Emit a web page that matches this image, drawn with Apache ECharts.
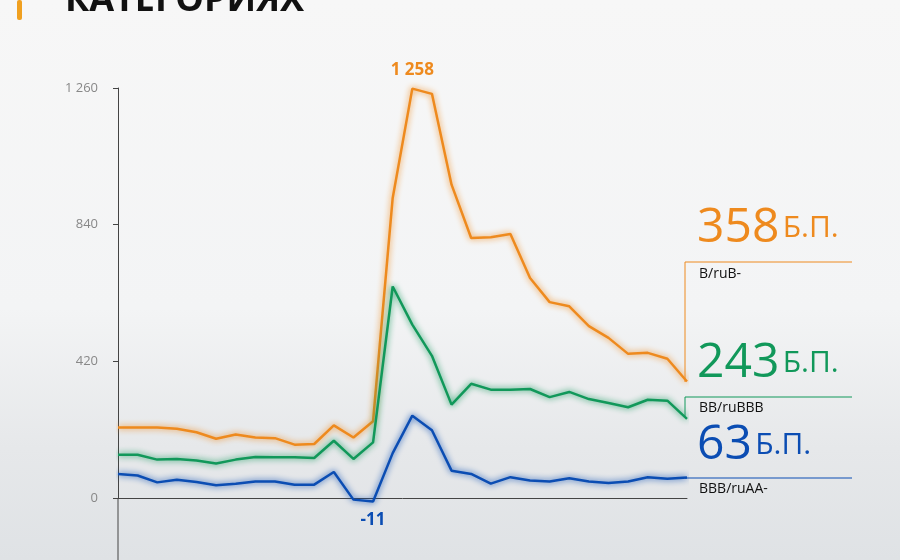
<!DOCTYPE html>
<html><head><meta charset="utf-8">
<script src="https://cdn.jsdelivr.net/npm/echarts@6/dist/echarts.min.js"></script>
<style>html,body{margin:0;padding:0;}#c{width:900px;height:560px;background:linear-gradient(180deg,#f7f7f7 0%,#f3f4f5 55%,#e6e8ea 80%,#dfe2e5 100%);}</style>
</head><body><div id="c"></div>
<script>
const categories = Array.from({length:30},(_,i)=>String(i+1));
const seriesB = [217,217,217,213,202,182,195,186,184,164,166,223,186,236,922,1258,1242,963,799,801,811,676,602,589,528,492,443,446,428,358];
const seriesBB = [133,133,118,120,115,106,118,126,125,125,123,176,120,171,650,533,437,287,351,333,333,335,310,326,304,292,279,302,299,243];
const seriesBBB = [74,69,48,56,49,39,44,51,51,41,41,80,-5,-11,138,253,208,84,74,44,64,54,51,61,51,46,51,64,59,63];
const yTicks = [0,420,840,1260];
const cO='#ee8a1e', cG='#11985a', cBl='#0b4db3';
const fmt = v=>String(v).replace(/(\d)(?=(\d{3})+$)/g,'$1 ');
function mk(arr, color, idx, pos){
  return arr.map((v,i)=> i===idx ? {value:v,label:{show:true,position:pos,distance:10,color:color,fontWeight:'bold',fontSize:17,fontFamily:'Open Sans',formatter:p=>fmt(p.value)}} : v);
}
const chart = echarts.init(document.getElementById('c'));
const lineStyle = c=>({color:c,width:2.5,shadowColor:c,shadowBlur:6});
const base = c=>({type:'line',symbol:'circle',symbolSize:0.1,showSymbol:true,clip:false,lineStyle:lineStyle(c),itemStyle:{color:c},label:{show:false}});
chart.setOption({
  animation:false,
  grid:{left:118,right:213,top:88,bottom:62},
  xAxis:{type:'category',data:categories,boundaryGap:false,axisLine:{lineStyle:{color:'#444'}},axisTick:{show:false},axisLabel:{show:false}},
  yAxis:{type:'value',min:0,max:1260,interval:420,axisLine:{show:true,lineStyle:{color:'#444'}},axisTick:{show:true,length:5,lineStyle:{color:'#444'}},splitLine:{show:false},
    axisLabel:{color:'#888',fontSize:13,fontFamily:'Open Sans',margin:20,formatter:v=>yTicks.includes(v)?fmt(v):''}},
  series:[
    Object.assign(base(cO),{data:mk(seriesB,cO,15,'top')}),
    Object.assign(base(cG),{data:seriesBB}),
    Object.assign(base(cBl),{data:mk(seriesBBB,cBl,13,'bottom')})
  ],
  graphic:[
    {type:'rect',shape:{x:17,y:0,width:5,height:20,r:2},style:{fill:'#f0a020'}},
    {type:'text',left:65,top:-17,style:{text:'КАТЕГОРИЯХ',font:'bold 36px "Open Sans"',fill:'#111',letterSpacing:6}},
    {type:'line',shape:{x1:118,y1:498,x2:118,y2:560},style:{stroke:'#444',lineWidth:1}},
    {type:'polyline',shape:{points:[[685,382],[685,262],[852,262]]},style:{stroke:cO,lineWidth:1,fill:null}},
    {type:'polyline',shape:{points:[[685,416],[685,397],[852,397]]},style:{stroke:cG,lineWidth:1,fill:null}},
    {type:'line',shape:{x1:685,y1:478,x2:852,y2:478},style:{stroke:cBl,lineWidth:1}},
    {type:'text',left:697,top:204,style:{rich:{a:{font:'48px "Liberation Sans Narrow","Open Sans"',fill:cO},b:{font:'30px "Open Sans"',fill:cO}},text:'{a|358} {b|Б.П.}'}},
    {type:'text',left:699,top:267,style:{text:'B/ruB-',font:'14px "Open Sans"',fill:'#111'}},
    {type:'text',left:697,top:339,style:{rich:{a:{font:'48px "Liberation Sans Narrow","Open Sans"',fill:cG},b:{font:'30px "Open Sans"',fill:cG}},text:'{a|243} {b|Б.П.}'}},
    {type:'text',left:699,top:401,style:{text:'BB/ruBBB',font:'14px "Open Sans"',fill:'#111'}},
    {type:'text',left:697,top:421,style:{rich:{a:{font:'48px "Liberation Sans Narrow","Open Sans"',fill:cBl},b:{font:'30px "Open Sans"',fill:cBl}},text:'{a|63} {b|Б.П.}'}},
    {type:'text',left:699,top:482,style:{text:'BBB/ruAA-',font:'14px "Open Sans"',fill:'#111'}}
  ]
});
</script></body></html>
